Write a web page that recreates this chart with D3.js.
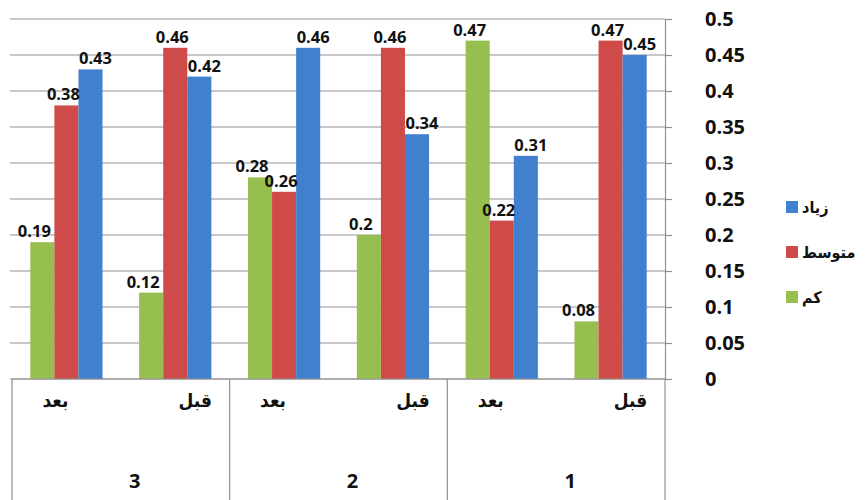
<!DOCTYPE html>
<html>
<head>
<meta charset="utf-8">
<script src="https://cdn.jsdelivr.net/npm/d3@7"></script>
<style>
  body { margin: 0; background: #fff; }
  svg { display: block; font-family: "DejaVu Sans Condensed", "DejaVu Sans", sans-serif; }
</style>
</head>
<body>
<div id="chart"></div>
<script>
// données (groupes de droite à gauche)
const groups = ["1", "2", "3"];
const phases = ["قبل", "بعد"];
const seriesNames = ["کم", "متوسط", "زیاد"];
const kam       = [0.08, 0.47, 0.2, 0.28, 0.12, 0.19];
const motavaset = [0.47, 0.22, 0.46, 0.26, 0.46, 0.38];
const ziad      = [0.45, 0.31, 0.34, 0.46, 0.42, 0.43];
const yTicks = [0, 0.05, 0.1, 0.15, 0.2, 0.25, 0.3, 0.35, 0.4, 0.45, 0.5];
const colors = ["#97bf50", "#cf4b49", "#4180cf"];

const W = 866, H = 500;
const plotLeft = 12, plotRight = 665, plotTop = 19, plotBottom = 379;
const numFont = "Open Sans, DejaVu Sans, sans-serif";

const svg = d3.select("#chart").append("svg")
  .attr("width", W).attr("height", H);

// une catégorie par (groupe, phase) ; ordre RTL
const cats = [];
groups.forEach(g => phases.forEach(p => cats.push(g + "|" + p)));
const rows = cats.map((c, i) => ({ key: c, group: c.split("|")[0], phase: c.split("|")[1], vals: [kam[i], motavaset[i], ziad[i]] }));

const x0 = d3.scaleBand().domain(cats).range([plotRight, plotLeft]).paddingInner(0).paddingOuter(0);
const x1 = d3.scaleBand().domain(seriesNames).range([0, x0.bandwidth()]).paddingInner(0).paddingOuter(0.76);
const y = d3.scaleLinear().domain([0, 0.5]).range([plotBottom, plotTop]);

// grille
svg.append("g").selectAll("line").data(yTicks).enter().append("line")
  .attr("x1", plotLeft - 2).attr("x2", plotRight)
  .attr("y1", d => y(d)).attr("y2", d => y(d))
  .attr("stroke", "#919191").attr("stroke-width", 1.2);

// axe droit
const yAxis = svg.append("g")
  .attr("transform", `translate(${plotRight},0)`)
  .call(d3.axisRight(y).tickValues(yTicks).tickSize(7).tickPadding(33).tickFormat(d => d3.format("")(+d.toFixed(2))));
yAxis.select(".domain").attr("stroke", "#919191").attr("stroke-width", 1.2);
yAxis.selectAll(".tick line").attr("stroke", "#919191").attr("stroke-width", 1.2);
yAxis.selectAll("text")
  .attr("font-size", 20).attr("font-weight", "bold").attr("fill", "#111")
  .attr("font-family", numFont);

// barres
const cat = svg.append("g").selectAll("g").data(rows).enter().append("g")
  .attr("transform", d => `translate(${x0(d.key)},0)`);

cat.selectAll("rect").data(d => d.vals.map((v, i) => ({ name: seriesNames[i], v, i })))
  .enter().append("rect")
  .attr("x", d => x1(d.name))
  .attr("width", x1.bandwidth())
  .attr("y", d => y(d.v))
  .attr("height", d => plotBottom - y(d.v))
  .attr("fill", d => colors[d.i]);

const nudge = [-8, -3, 5];
cat.selectAll("text").data(d => d.vals.map((v, i) => ({ name: seriesNames[i], v, i })))
  .enter().append("text")
  .attr("x", d => x1(d.name) + x1.bandwidth() / 2 + nudge[d.i])
  .attr("y", d => y(d.v) - 5)
  .attr("text-anchor", "middle")
  .attr("font-size", 16.5).attr("font-weight", "bold").attr("fill", "#111")
  .attr("font-family", numFont)
  .text(d => d3.format("")(d.v));

// axe des catégories en tableau
const tbl = svg.append("g").attr("stroke", "#919191").attr("stroke-width", 1.2);
tbl.append("line").attr("x1", plotLeft).attr("x2", plotRight).attr("y1", plotBottom).attr("y2", plotBottom);
const bounds = [plotRight].concat(groups.map(g => x0(g + "|" + phases[1])));
tbl.selectAll("line.v").data(bounds).enter().append("line").attr("class", "v")
  .attr("x1", d => d).attr("x2", d => d).attr("y1", plotBottom).attr("y2", H);

svg.append("g").selectAll("text").data(rows).enter().append("text")
  .attr("x", d => x0(d.key) + x0.bandwidth() / 2 + (d.phase === "قبل" ? 20 : -11))
  .attr("y", 407)
  .attr("text-anchor", "middle")
  .attr("font-size", 19).attr("font-weight", "bold").attr("fill", "#111")
  .text(d => d.phase);

svg.append("g").selectAll("text").data(groups).enter().append("text")
  .attr("x", g => x0(g + "|" + phases[1]) + x0.bandwidth() + 14)
  .attr("y", 488)
  .attr("text-anchor", "middle")
  .attr("font-size", 20).attr("font-weight", "bold").attr("fill", "#111")
  .attr("font-family", numFont)
  .text(g => g);

// légende
const legendNames = seriesNames.slice().reverse();
const legend = svg.append("g").selectAll("g").data(legendNames).enter().append("g")
  .attr("transform", (d, i) => `translate(786,${207 + i * 45})`);
legend.append("rect").attr("x", 0).attr("y", -6).attr("width", 12).attr("height", 12)
  .attr("fill", d => colors[seriesNames.indexOf(d)]);
legend.append("text").attr("x", 16).attr("y", 6)
  .attr("font-size", 16).attr("font-weight", "bold").attr("fill", "#111")
  .text(d => d);
</script>
</body>
</html>
